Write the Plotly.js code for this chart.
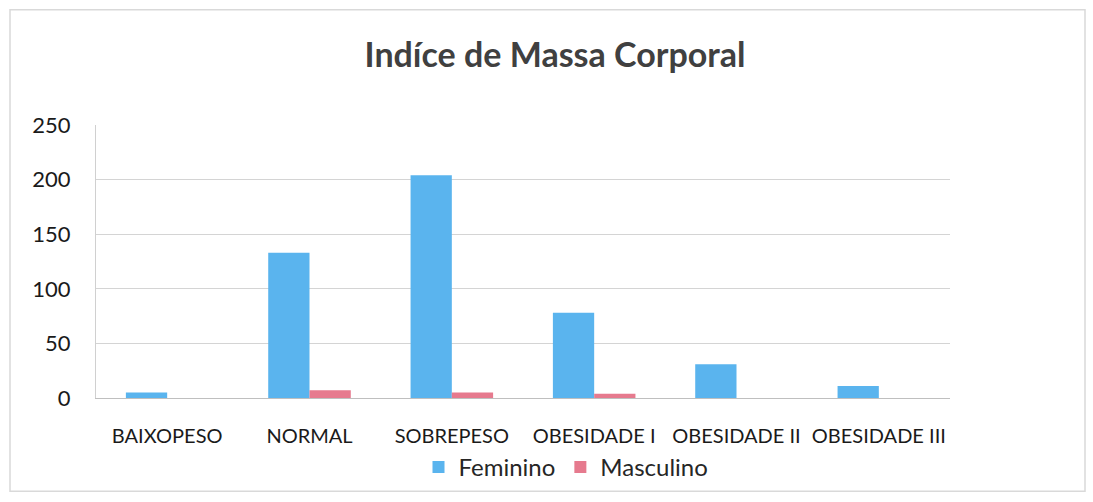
<!DOCTYPE html>
<html>
<head>
<meta charset="utf-8">
<script src="https://cdn.plot.ly/plotly-3.0.1.min.js"></script>
<style>
html,body{margin:0;padding:0;background:#fff;}
#chart{width:1093px;height:502px;}
</style>
</head>
<body>
<div id="chart"></div>
<script>
const categories = ["BAIXOPESO", "NORMAL", "SOBREPESO", "OBESIDADE I", "OBESIDADE II", "OBESIDADE III"];
const feminino = [5, 133, 204, 78, 31, 11];
const masculino = [0, 7, 5, 4, 0, 0];
const yTicks = [0, 50, 100, 150, 200, 250];

const W = 1093, H = 502;
const L = 96, R = 143, T = 125, B = 102;
const pw = W - L - R, ph = H - T - B;
function px(x){ return (x - L) / pw; }
function py(y){ return (H - B - y) / ph; }

const font = "Lato, 'Open Sans', sans-serif";

const data = [
  {type:'bar', name:'Feminino', x:categories, y:feminino, marker:{color:'#5AB4EE'}},
  {type:'bar', name:'Masculino', x:categories, y:masculino, marker:{color:'#E67A8E'}}
];

const layout = {
  width:W, height:H,
  margin:{l:L, r:R, t:T, b:B},
  paper_bgcolor:'#fff', plot_bgcolor:'#fff',
  barmode:'group', bargap:0.42, bargroupgap:0,
  font:{family:font, color:'#262626'},
  title:{text:'<b>Indíce de Massa Corporal</b>', font:{family:font, size:34, color:'#404040'},
         x:px(555), xanchor:'center', xref:'paper', y:1-55/H, yanchor:'middle'},
  xaxis:{type:'category', tickfont:{size:20, color:'#1a1a1a'}, showgrid:false,
         showline:true, linecolor:'#bfbfbf', linewidth:1,
         ticks:'outside', ticklen:20, tickcolor:'rgba(0,0,0,0)', fixedrange:true},
  yaxis:{range:[0,250], tickvals:yTicks, ticktext:yTicks.map(String),
         tickfont:{size:22, color:'#1a1a1a'}, showgrid:true, gridcolor:'#d4d4d4', gridwidth:1,
         showline:true, linecolor:'#d0d0d0', zeroline:false,
         ticks:'outside', ticklen:20, tickcolor:'rgba(0,0,0,0)', fixedrange:true},
  legend:{orientation:'h', x:px(566), xanchor:'center', y:py(470), yanchor:'middle',
          font:{size:24, color:'#262626'}, itemwidth:30, traceorder:'normal'},
  showlegend:true,
  shapes:[{type:'rect', xref:'paper', yref:'paper', x0:px(10), x1:px(1085), y0:py(494), y1:py(9),
           line:{color:'#d9d9d9', width:1.5}, fillcolor:'rgba(0,0,0,0)', layer:'below'}]
};

Plotly.newPlot('chart', data, layout, {displayModeBar:false, staticPlot:true});
</script>
</body>
</html>
